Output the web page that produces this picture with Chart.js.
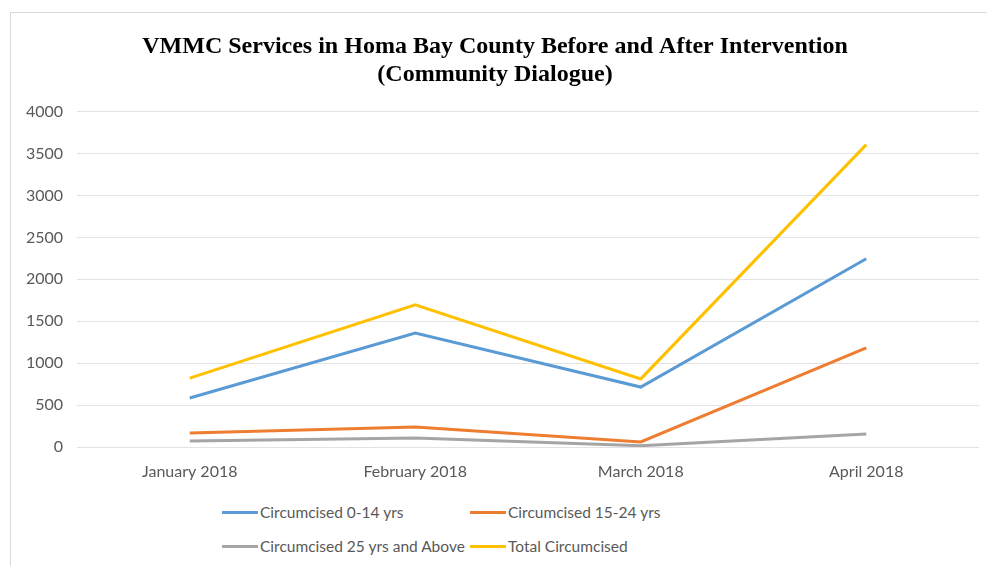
<!DOCTYPE html>
<html>
<head>
<meta charset="utf-8">
<script src="https://cdn.jsdelivr.net/npm/chart.js@4/dist/chart.umd.min.js"></script>
<style>
  html, body { margin: 0; padding: 0; background: #fff; overflow: hidden; }
  #frame {
    position: absolute; left: 10px; top: 12px; width: 990px; height: 570px;
    border-left: 1px solid #d9d9d9; border-top: 1px solid #d9d9d9;
  }
  #wrap { position: absolute; left: 11px; top: 13px; width: 976px; height: 480px; }
  #legend { position: absolute; left: 0; top: 0; font-family: Lato, sans-serif; font-size: 15.5px; color: #595959; }
  .item { position: absolute; display: flex; align-items: center; white-space: nowrap; height: 20px; }
  .swatch { width: 36px; height: 3px; margin-right: 2px; }
</style>
</head>
<body>
<div id="frame"></div>
<div id="wrap"><canvas id="vmmcChart"></canvas></div>
<div id="legend"></div>
<script>
const months = ["January 2018", "February 2018", "March 2018", "April 2018"];
const age0to14 = [585, 1360, 715, 2245];
const age15to24 = [167, 238, 60, 1182];
const age25plus = [72, 107, 15, 155];
const totalCirc = [822, 1695, 812, 3606];
const yTicks = [0, 500, 1000, 1500, 2000, 2500, 3000, 3500, 4000];

const series = [
  { label: "Circumcised 0-14 yrs", data: age0to14, color: "#5B9BD5" },
  { label: "Circumcised 15-24 yrs", data: age15to24, color: "#ED7D31" },
  { label: "Circumcised 25 yrs and Above", data: age25plus, color: "#A5A5A5" },
  { label: "Total Circumcised", data: totalCirc, color: "#FFC000" },
];

const chart = new Chart(document.getElementById("vmmcChart"), {
  type: "line",
  data: {
    labels: months,
    datasets: series.map(s => ({
      label: s.label,
      data: s.data,
      borderColor: s.color,
      backgroundColor: s.color,
      borderWidth: 3,
      pointRadius: 0,
      tension: 0,
    })),
  },
  options: {
    responsive: true,
    maintainAspectRatio: false,
    animation: false,
    layout: { padding: { left: 0, right: 8, top: 0, bottom: 0 } },
    plugins: {
      legend: { display: false },
      tooltip: { enabled: false },
      title: {
        display: true,
        text: ["VMMC Services in Homa Bay County Before and After Intervention", "(Community Dialogue)"],
        color: "#000",
        font: { family: "'Liberation Serif', 'Times New Roman', serif", size: 24, weight: "bold", lineHeight: 1.2 },
        padding: { top: 19, bottom: 22 },
      },
    },
    scales: {
      x: {
        offset: true,
        grid: { display: false, drawTicks: false },
        border: { display: false },
        ticks: { color: "#595959", font: { family: "Lato", size: 16 }, padding: 15 },
        afterFit: scale => { scale.height = 46; },
      },
      y: {
        min: 0,
        max: 4000,
        afterBuildTicks: scale => { scale.ticks = yTicks.map(v => ({ value: v })); },
        grid: { color: "#e3e3e3", lineWidth: 1, drawTicks: false },
        border: { display: false },
        ticks: {
          color: "#595959",
          font: { family: "Lato", size: 16 },
          padding: 14,
          callback: v => String(v),
        },
        afterFit: scale => { scale.width = 66; },
      },
    },
  },
});

// two-column legend under the chart, like the original
const legendEl = document.getElementById("legend");
const cols = [222, 470];
const rows = [502, 536];
series.forEach((s, i) => {
  const item = document.createElement("div");
  item.className = "item";
  item.style.left = cols[i % 2] + "px";
  item.style.top = rows[Math.floor(i / 2)] + "px";
  item.innerHTML = '<span class="swatch" style="background:' + s.color + '"></span>' + s.label;
  legendEl.appendChild(item);
});
</script>
</body>
</html>
